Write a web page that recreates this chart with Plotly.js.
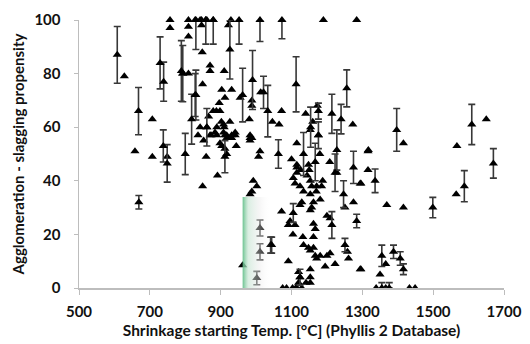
<!DOCTYPE html>
<html><head><meta charset="utf-8">
<script src="https://cdn.plot.ly/plotly-3.0.1.min.js"></script>
<style>html,body{margin:0;padding:0;background:#fff}#chart{width:530px;height:344px}</style>
</head><body><div id="chart"></div>
<script>
// Points without error bars: shrinkage temperature (°C) and agglomeration propensity
const plainX = [757,757,809,828,842,846,858,861,879,929,1190,1284,
  846,809,809,848,870,870,910,922,
  628,707,658,707,749,859,891,849,
  809,793,849,903,931,912,955,
  842,861,879,888,898,908,910,889,931,941,873,889,912,903,988,983,870,917,898,912,908,917,931,941,917,
  988,988,981,1013,1072,1173,
  1273,1416,1650,1567,1317,1565,1416,1369,1316,1316,1296,1251,1275,1296,1366,1350,1449,1339,
  983,983,1011,1007,992,1002,988,983,1115,1153,1176,1115,1115,1115,1148,1105,1110,1124,1134,
  1153,1157,1171,1185,1153,1162,1181,1157,1153,1129,1124,1072,1096,1091,1110,1162,1167,1162,
  1200,1209,1132,1134,1148,1153,1162,1167,1171,1181,1200,1209,1195,1223,1153,1153,1153,
  1120,1124,1120,1115,1129,1091,1086,1075,1103,1112,1261,1294,1294,1228,962,1366,1433,
  1258,1141,1208,1150,1180,1160,1140,1100,1065,1046,
  866,884,902,852,836,896,926,944,1126,1144,1188,1170,1104];
const plainY = [100,97,100,100,100,100,100,100,100,100,100,100,
  98,97.5,93.8,88,83,81,81,98,
  79,63,51,49,49,49,42,38,
  80,80,76,74,74,71,71,
  60,60,66,66,66,61,60,60,57,57,57,57,57,53,56,57,57,57,54,52,58,56,56,58,50,
  70,68,63,73,66,68,
  61,54,63,53,51.5,35,30,31,51,44,39,30,32,7,9,5,0,0,
  56,55,51,49,40,38,36,35,54,59,57,46,45,43,46,41,39,38,36,
  40,38,38,38,35,32,33,30,29,32,31,28.5,25,23.5,23.5,24,22,19,
  27,26,19,16,15,14,15,12,11,12,12,13,8,9,7,4,2,
  6,4,2,0,0,10,0,0,0,0,11,7,39,43,8.5,0,0,
  13.5,2,47,44,50,62,65,48,61,62,
  64,58,62,55,57,69,62,53,44,42,40,36,20];

// Points with error bars (upper / lower error)
const errX = [608,668,729,739,789,830,818,861,738,749,800,669,912,
  1011,1073,952,926,830,858,879,
  990,962,1021,1033,1113,1256,1154,1214,1240,1397,1609,1176,1670,1588,1499,1275,1336,1247,
  1284,1251,1355,1388,1407,1416,1355,1376,1063,1134,1167,1105,1214,1044,1011,1011,1002,
  1228,1223,793,828,1124,1176,1041];
const errY = [87,66,84,77,81,72,63,60,53,46.5,50,32,49,
  100,100,100,89,100,100,100,
  77.6,72,73,66,76,74.5,60,65,63,59,61,57,46.5,38,30,45,40,35,
  25,16,12,13.5,11,7,0,0,50,50,47,28,23.5,16,22.4,13.5,3.7,
  51.5,43,80,72,4,66,16];
const errPlus = [10.6,8.8,9.7,7.3,11.3,9.3,9.3,7,6,7,7.7,2.5,6,
  0,0,0,11,0,0,0,
  11,10,6,9.6,10.3,6.9,7.5,7.3,5.5,8,7.5,5,5.5,5.8,3.8,6,4.4,5,
  2.5,2.5,4,2.5,2.5,2,2,2,5.3,8,7,3.5,5,3,3,3,2.5,
  7.5,7,10.5,8,3,3,3];
const errMinus = [10.6,8.8,9.7,7.3,11.3,9.3,9.3,7,6,7,7.7,2.5,6,
  8,7,9,11,11,9,9,
  11,10,6,9.6,10.3,6.9,7.5,7.3,5.5,8,7.5,5,5.5,5.8,3.8,6,4.4,5,
  2.5,2.5,4,2.5,2.5,2,0,0,5.3,8,7,3.5,5,3,3,3,2.5,
  7.5,7,10.5,8,3,3,3];

// Highlighted temperature band (gradient overlay)
const bandX = [962,1042,1042,962,962];
const bandY = [0,0,34,34,0];

const xTicks = [500,700,900,1100,1300,1500,1700];
const yTicks = [0,20,40,60,80,100];

const marker = {symbol:'triangle-up', size:8, color:'#000'};
const fam = 'Lato, "Open Sans", sans-serif';
const traces = [
  {type:'scatter', mode:'markers', x:plainX, y:plainY, marker:marker, hoverinfo:'skip', cliponaxis:false},
  {type:'scatter', mode:'markers', x:errX, y:errY, marker:marker, hoverinfo:'skip', cliponaxis:false,
   error_y:{type:'data', symmetric:false, array:errPlus, arrayminus:errMinus, color:'#383838', thickness:1.6, width:3.5}},
  {type:'scatter', mode:'none', x:bandX, y:bandY, fill:'toself', hoverinfo:'skip',
   fillgradient:{type:'horizontal', colorscale:[[0,'rgba(95,190,135,0.92)'],[0.2,'rgba(195,228,208,0.62)'],[0.6,'rgba(232,232,232,0.4)'],[1,'rgba(255,255,255,0.0)']]}}
];
const layout = {
  width:530, height:344, showlegend:false,
  paper_bgcolor:'#fff', plot_bgcolor:'#fff',
  margin:{l:79, r:26, t:20, b:56},
  font:{family:fam, size:15, color:'#111', weight:700},
  xaxis:{range:[500,1700], tickvals:xTicks, ticktext:xTicks.map(String), showgrid:false, zeroline:false,
    showline:true, linecolor:'#bdbdbd', linewidth:1.5, ticks:'outside', ticklen:5, tickcolor:'#bdbdbd',
    tickfont:{family:fam, size:15, color:'#111', weight:700}, ticklabelstandoff:4,
    title:{text:'Shrinkage starting Temp. [°C] (Phyllis 2 Database)', font:{family:fam, size:15.5, color:'#111', weight:700}, standoff:6}},
  yaxis:{range:[0,100], tickvals:yTicks, ticktext:yTicks.map(String), showgrid:false, zeroline:false,
    showline:true, linecolor:'#bdbdbd', linewidth:1.5, ticks:'outside', ticklen:4, tickcolor:'#bdbdbd',
    tickfont:{family:fam, size:15, color:'#111', weight:700}, ticklabelstandoff:10,
    title:{text:'Agglomeration - slagging propensity', font:{family:fam, size:15, color:'#111', weight:700}, standoff:6}}
};
Plotly.newPlot('chart', traces, layout, {staticPlot:true, displayModeBar:false});
</script></body></html>
